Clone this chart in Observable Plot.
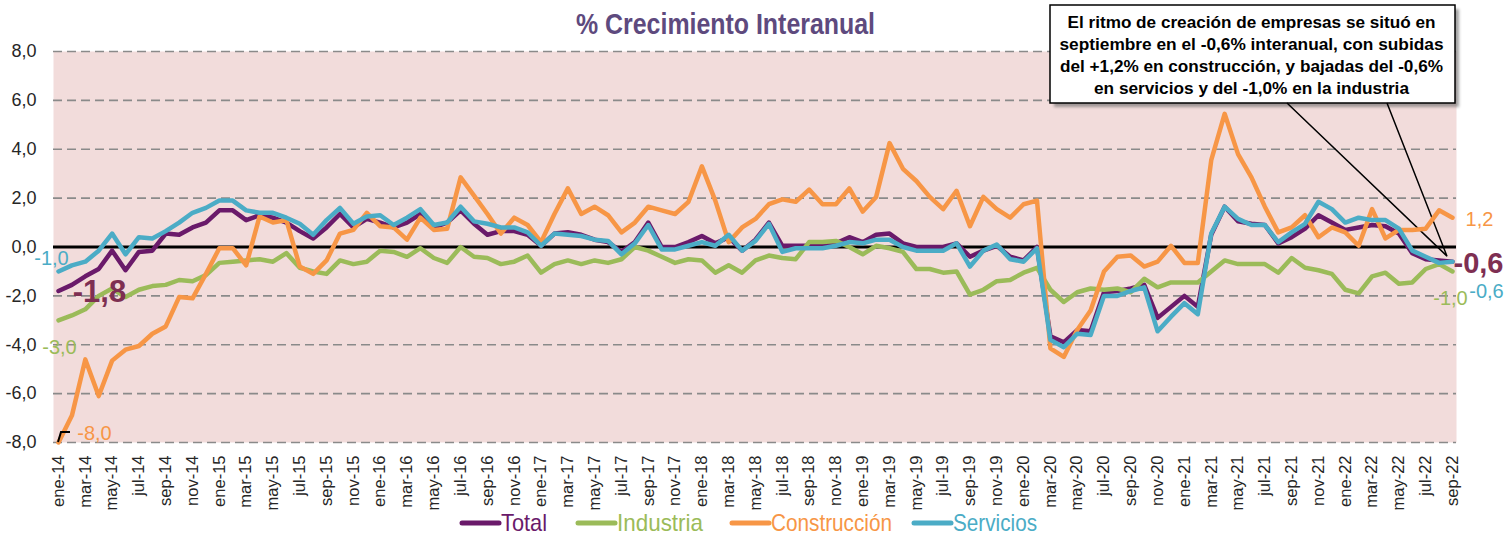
<!DOCTYPE html>
<html><head><meta charset="utf-8">
<script src="https://cdn.jsdelivr.net/npm/d3@7"></script>
<script src="https://cdn.jsdelivr.net/npm/@observablehq/plot@0.6"></script>
<style>
body{margin:0;background:#fff;}
#chart svg{display:block;}
</style>
</head><body><div id="chart"></div>
<script>
const meses = ["ene","feb","mar","abr","may","jun","jul","ago","sep","oct","nov","dic"];
const anios = ["14","15","16","17","18","19","20","21","22"];
const categories = anios.flatMap(a => meses.map(m => `${m}-${a}`)).slice(0, 105);
const xTicks = categories.filter((d, i) => i % 2 === 0);
const yTicks = [-8, -6, -4, -2, 0, 2, 4, 6, 8];

const total = [
 -1.8,-1.55,-1.2,-0.9,-0.15,-0.95,-0.2,-0.15,0.55,0.5,0.8,1.0,
 1.5,1.5,1.1,1.3,1.2,1.0,0.65,0.35,0.8,1.35,0.8,1.15,
 1.0,0.8,1.0,1.35,0.8,1.0,1.5,0.95,0.5,0.65,0.65,0.5,
 0.05,0.55,0.6,0.5,0.3,0.2,-0.2,0.2,1.0,0.0,0.0,0.2,
 0.45,0.15,0.4,-0.15,0.3,1.0,0.05,0.05,0.05,0.05,0.15,0.4,
 0.2,0.5,0.55,0.15,0.0,0.0,0.0,0.15,-0.4,-0.15,0.05,-0.4,
 -0.55,0.0,-3.65,-3.9,-3.4,-3.45,-1.85,-1.8,-1.7,-1.55,-2.9,-2.45,
 -2.0,-2.45,0.5,1.65,1.05,0.95,0.9,0.15,0.4,0.75,1.3,1.0,
 0.7,0.8,0.9,0.85,0.55,-0.25,-0.5,-0.55,-0.6];
const industria = [
 -3.0,-2.8,-2.55,-2.0,-1.7,-2.05,-1.75,-1.6,-1.55,-1.35,-1.4,-1.15,
 -0.65,-0.6,-0.55,-0.5,-0.6,-0.25,-0.85,-1.0,-1.1,-0.55,-0.7,-0.6,
 -0.15,-0.2,-0.4,-0.05,-0.45,-0.65,0.0,-0.4,-0.45,-0.7,-0.6,-0.35,
 -1.05,-0.7,-0.55,-0.7,-0.55,-0.65,-0.5,0.0,-0.15,-0.4,-0.65,-0.5,
 -0.55,-1.05,-0.75,-1.05,-0.55,-0.35,-0.45,-0.5,0.2,0.2,0.25,0.0,
 -0.3,0.05,-0.05,-0.2,-0.9,-0.9,-1.05,-1.0,-1.95,-1.75,-1.4,-1.35,
 -1.05,-0.85,-1.75,-2.25,-1.85,-1.7,-1.75,-1.7,-1.85,-1.3,-1.65,-1.45,
 -1.45,-1.45,-1.0,-0.55,-0.7,-0.7,-0.7,-1.05,-0.45,-0.85,-0.95,-1.1,
 -1.75,-1.9,-1.2,-1.05,-1.5,-1.45,-0.9,-0.7,-1.0];
const construccion = [
 -8.0,-6.9,-4.6,-6.1,-4.65,-4.2,-4.05,-3.55,-3.25,-2.05,-2.1,-1.1,
 -0.05,-0.05,-0.75,1.25,1.0,1.1,-0.8,-1.1,-0.55,0.55,0.7,1.4,
 0.85,0.8,0.3,1.2,0.7,0.75,2.85,2.1,1.35,0.55,1.2,0.9,
 0.2,1.35,2.4,1.35,1.65,1.3,0.6,1.0,1.65,1.5,1.35,1.85,
 3.3,1.9,0.2,0.8,1.15,1.75,1.95,1.85,2.35,1.75,1.75,2.4,
 1.45,2.05,4.25,3.2,2.7,2.05,1.55,2.3,0.85,2.05,1.55,1.2,
 1.75,1.9,-4.15,-4.5,-3.4,-2.6,-1.0,-0.4,-0.35,-0.8,-0.6,0.05,
 -0.65,-0.65,3.55,5.45,3.8,2.85,1.65,0.6,0.8,1.3,0.4,0.8,
 0.6,0.05,1.55,0.35,0.7,0.7,0.75,1.5,1.2];
const servicios = [
 -1.0,-0.75,-0.6,-0.15,0.55,-0.3,0.4,0.35,0.65,1.0,1.4,1.6,
 1.9,1.9,1.5,1.4,1.4,1.2,0.95,0.5,1.1,1.6,0.95,1.25,
 1.3,0.9,1.2,1.55,0.9,1.0,1.65,1.05,0.95,0.8,0.8,0.6,
 0.05,0.55,0.5,0.45,0.3,0.25,-0.3,0.15,0.9,-0.1,-0.1,0.05,
 0.2,0.05,0.5,-0.15,0.25,0.95,-0.2,-0.05,-0.05,-0.05,0.05,0.2,
 0.15,0.3,0.3,0.0,-0.15,-0.15,-0.15,0.15,-0.8,-0.15,0.1,-0.5,
 -0.6,-0.05,-3.8,-4.1,-3.55,-3.6,-2.0,-2.0,-1.8,-1.65,-3.45,-2.85,
 -2.3,-2.75,0.55,1.65,1.15,0.9,0.9,0.2,0.6,0.95,1.85,1.55,
 1.0,1.2,1.1,1.1,0.75,-0.15,-0.4,-0.65,-0.6];

const seriesNames = ["Total", "Industria", "Construcción", "Servicios"];
const seriesColors = ["#6a1a6a", "#9bbb59", "#f79646", "#4bacc6"];
const seriesValues = [total, industria, construccion, servicios];
const labelColor = "#7e2f52";

const titulo = "% Crecimiento Interanual";
const nota = [
  "El ritmo de creación de empresas se situó en",
  "septiembre en el -0,6% interanual, con subidas",
  "del +1,2% en construcción, y bajadas del -0,6%",
  "en servicios y del -1,0% en la industria"
];

const fmt = v => d3.format(".1f")(v).replace(".", ",").replace("−", "-");
const rows = seriesNames.map((s, k) => seriesValues[k].map((v, i) => ({serie: s, mes: categories[i], valor: v})));
const first = i => ({mes: categories[0], valor: seriesValues[i][0]});
const last = i => ({mes: categories[104], valor: seriesValues[i][104]});

const FONT = "'Liberation Sans', Arial, sans-serif";

const chart = Plot.plot({
  width: 1508, height: 534,
  marginLeft: 53, marginRight: 52, marginTop: 51, marginBottom: 92,
  style: {fontFamily: FONT, background: "#fff", overflow: "visible"},
  x: {type: "point", domain: categories, padding: 0, insetLeft: 5, insetRight: 4},
  y: {domain: [-8, 8]},
  marks: [
    Plot.frame({fill: "#f2dcdb", stroke: null}),
    Plot.ruleY(yTicks.filter(d => d !== 0), {stroke: "#8a8a8a", strokeWidth: 1.7, strokeDasharray: "9,5"}),
    Plot.ruleY([0], {stroke: "#000", strokeWidth: 3}),
    Plot.axisY({ticks: yTicks, tickSize: 0, tickPadding: 17, tickFormat: fmt, fontSize: 18, fill: "#262626", label: null}),
    Plot.axisX({ticks: xTicks, tickSize: 0, tickPadding: 13, tickRotate: -90, fontSize: 16.5, fill: "#262626", label: null}),
    ...rows.map((r, k) => Plot.line(r, {x: "mes", y: "valor", stroke: seriesColors[k], strokeWidth: 4.5, strokeLinejoin: "round", strokeLinecap: "round"})),
    // left labels
    Plot.text([first(3)], {x: "mes", y: "valor", text: d => fmt(d.valor), dx: -7, dy: -13, fill: seriesColors[3], fontSize: 20}),
    Plot.text([first(0)], {x: "mes", y: "valor", text: d => fmt(d.valor), dx: 41, dy: 1, fill: labelColor, fontSize: 31, fontWeight: "bold"}),
    Plot.text([first(1)], {x: "mes", y: "valor", text: d => fmt(d.valor), dx: 1, dy: 27, fill: seriesColors[1], fontSize: 20}),
    Plot.text([first(2)], {x: "mes", y: "valor", text: d => fmt(d.valor), dx: 36, dy: -9, fill: seriesColors[2], fontSize: 20}),
    // right labels
    Plot.text([last(2)], {x: "mes", y: "valor", text: d => fmt(d.valor), dx: 27, dy: 2, fill: seriesColors[2], fontSize: 20}),
    Plot.text([last(0)], {x: "mes", y: "valor", text: d => fmt(d.valor), dx: 1, dy: 2, textAnchor: "start", fill: labelColor, fontSize: 29, fontWeight: "bold"}),
    Plot.text([last(1)], {x: "mes", y: "valor", text: d => fmt(d.valor), dx: -2, dy: 27, fill: seriesColors[1], fontSize: 20}),
    Plot.text([last(3)], {x: "mes", y: "valor", text: d => fmt(d.valor), dx: 34, dy: 30, fill: seriesColors[3], fontSize: 20})
  ]
});

document.getElementById("chart").appendChild(chart);
const svg = d3.select(chart);
const xs = chart.scale("x"), ys = chart.scale("y");

// small leader mark near the first construction value
const px = xs.apply(categories[0]), py = ys.apply(construccion[0]);
svg.append("path").attr("d", `M${px},${py} L${px + 3},${py - 10} L${px + 12},${py - 10}`)
  .attr("fill", "none").attr("stroke", "#000").attr("stroke-width", 2);

// callout (inserted below the data lines)
const firstLine = chart.querySelector('g[aria-label="line"]');
const callout = svg.insert("g", () => firstLine);
const defs = svg.append("defs");
defs.append("filter").attr("id", "blur").append("feGaussianBlur").attr("stdDeviation", 1.6);
const bx = 1050, by = 5, bw = 405, bh = 98;
const tipX = xs.apply(categories[104]) - 5, tipY = ys.apply(total[104]) - 5;
callout.append("rect").attr("x", bx + 4).attr("y", by + 4).attr("width", bw).attr("height", bh)
  .attr("fill", "#666").attr("opacity", 0.6).attr("filter", "url(#blur)");
callout.append("rect").attr("x", bx).attr("y", by).attr("width", bw).attr("height", bh)
  .attr("fill", "#fff").attr("stroke", "#000").attr("stroke-width", 1.5);
callout.append("path").attr("d", `M1287,${by + bh} L${tipX},${tipY} L1387,${by + bh}`)
  .attr("fill", "none").attr("stroke", "#000").attr("stroke-width", 1.5);
const lens = [368, 384, 383, 315];
nota.forEach((t, i) => {
  callout.append("text").attr("x", bx + bw / 2 - 1).attr("y", 28 + i * 22)
    .attr("text-anchor", "middle").attr("font-family", FONT).attr("font-weight", "bold")
    .attr("font-size", 17).attr("fill", "#000")
    .attr("textLength", lens[i]).attr("lengthAdjust", "spacingAndGlyphs").text(t);
});

// title
svg.append("text").attr("x", 725.5).attr("y", 34).attr("text-anchor", "middle")
  .attr("font-family", FONT).attr("font-weight", "bold").attr("font-size", 29)
  .attr("fill", "#5e4a7e").attr("textLength", 299).attr("lengthAdjust", "spacingAndGlyphs").text(titulo);

// legend
const legX = [462, 578, 732, 914];
const legW = [46, 86, 121, 84];
const legend = svg.append("g").attr("text-anchor", "start");
seriesNames.forEach((s, k) => {
  legend.append("line").attr("x1", legX[k]).attr("x2", legX[k] + 37).attr("y1", 523).attr("y2", 523)
    .attr("stroke", seriesColors[k]).attr("stroke-width", 5).attr("stroke-linecap", "round");
  legend.append("text").attr("x", legX[k] + 39).attr("y", 531).attr("font-family", FONT)
    .attr("text-anchor", "start").attr("font-size", 24).attr("fill", seriesColors[k])
    .attr("textLength", legW[k]).attr("lengthAdjust", "spacingAndGlyphs").text(s);
});
</script>
</body></html>
